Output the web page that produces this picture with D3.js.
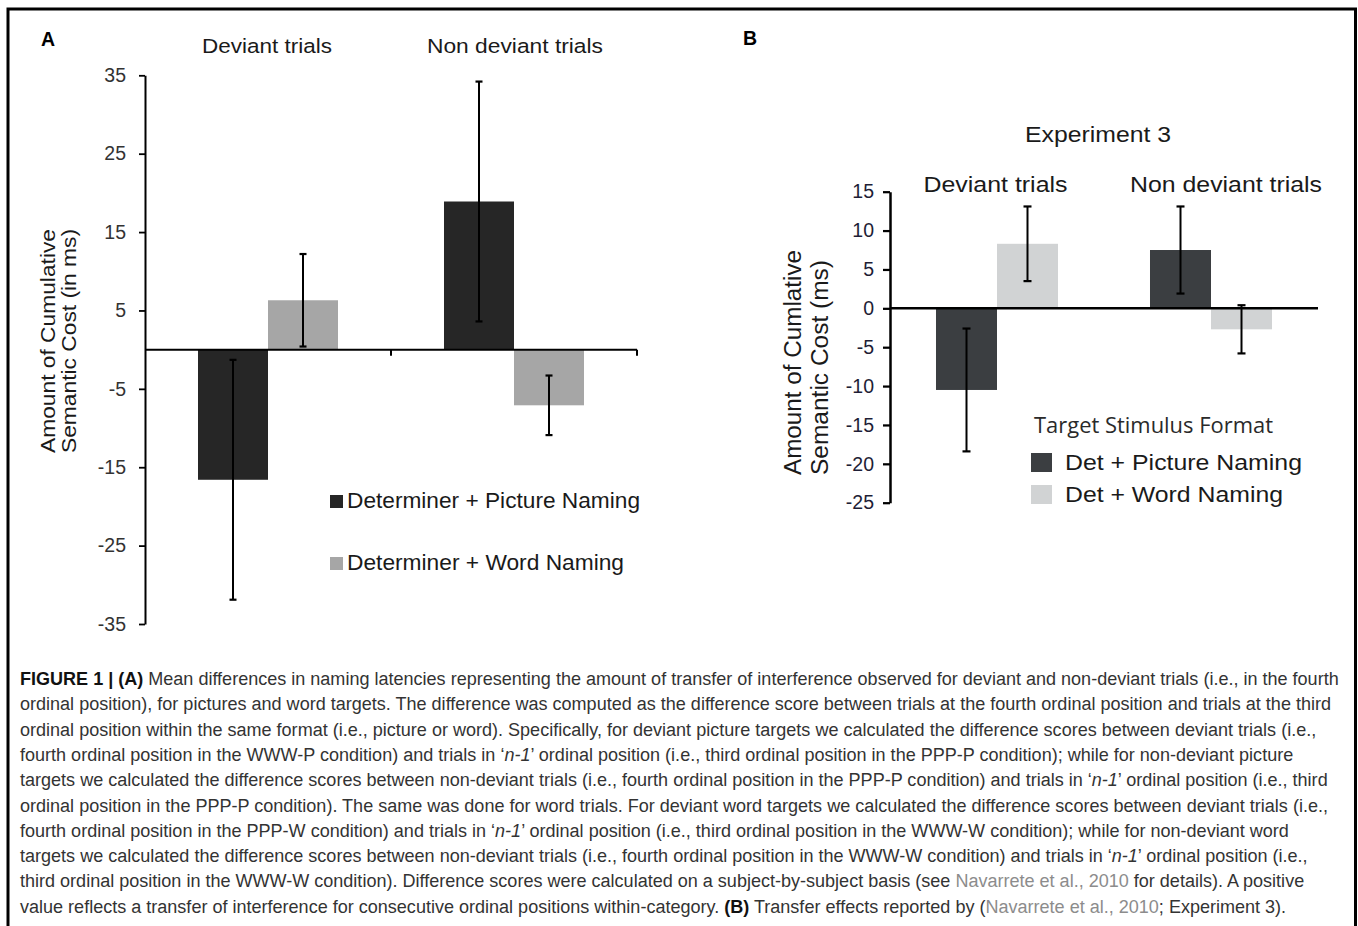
<!DOCTYPE html>
<html>
<head>
<meta charset="utf-8">
<script src="https://cdn.jsdelivr.net/npm/d3@7"></script>
<style>
  body { margin: 0; background: #fff; }
  svg { display: block; font-family: "Liberation Sans", Arial, sans-serif; }
</style>
</head>
<body>
<svg id="fig" width="1358" height="926"></svg>
<script>
var groupsA = ["Deviant trials", "Non deviant trials"];
var seriesA = ["Determiner + Picture Naming", "Determiner + Word Naming"];
var pictureA = [-16.6, 18.9];
var pictureErrA = [15.3, 15.3];
var wordA = [6.3, -7.1];
var wordErrA = [5.9, 3.8];
var ticksA = [35, 25, 15, 5, -5, -15, -25, -35];

// panel B values
var groupsB = ["Deviant trials", "Non deviant trials"];
var seriesB = ["Det + Picture Naming", "Det + Word Naming"];
var pictureB = [-10.5, 7.5];
var pictureErrB = [7.9, 5.6];
var wordB = [8.3, -2.7];
var wordErrB = [4.8, 3.1];
var ticksB = [15, 10, 5, 0, -5, -10, -15, -20, -25];

// caption, one entry per printed line. objects mark bold / italic / link runs
var captionLines = [
    [{b: "FIGURE 1 | (A)"}, " Mean differences in naming latencies representing the amount of transfer of interference observed for deviant and non-deviant trials (i.e., in the fourth"],
    ["ordinal position), for pictures and word targets. The difference was computed as the difference score between trials at the fourth ordinal position and trials at the third"],
    ["ordinal position within the same format (i.e., picture or word). Specifically, for deviant picture targets we calculated the difference scores between deviant trials (i.e.,"],
    ["fourth ordinal position in the WWW-P condition) and trials in \u2018", {i: "n-1"}, "\u2019 ordinal position (i.e., third ordinal position in the PPP-P condition); while for non-deviant picture"],
    ["targets we calculated the difference scores between non-deviant trials (i.e., fourth ordinal position in the PPP-P condition) and trials in \u2018", {i: "n-1"}, "\u2019 ordinal position (i.e., third"],
    ["ordinal position in the PPP-P condition). The same was done for word trials. For deviant word targets we calculated the difference scores between deviant trials (i.e.,"],
    ["fourth ordinal position in the PPP-W condition) and trials in \u2018", {i: "n-1"}, "\u2019 ordinal position (i.e., third ordinal position in the WWW-W condition); while for non-deviant word"],
    ["targets we calculated the difference scores between non-deviant trials (i.e., fourth ordinal position in the WWW-W condition) and trials in \u2018", {i: "n-1"}, "\u2019 ordinal position (i.e.,"],
    ["third ordinal position in the WWW-W condition). Difference scores were calculated on a subject-by-subject basis (see ", {a: "Navarrete et al., 2010"}, " for details). A positive"],
    ["value reflects a transfer of interference for consecutive ordinal positions within-category. ", {b: "(B)"}, " Transfer effects reported by (", {a: "Navarrete et al., 2010"}, "; Experiment 3)."]
];

var svg = d3.select("#fig");

// frame round the figure
svg.append("rect")
    .attr("x", 8).attr("y", 9)
    .attr("width", 1347.5).attr("height", 960)
    .attr("fill", "none")
    .attr("stroke", "#000")
    .attr("stroke-width", 3);

// helper: text squeezed / stretched to the width seen in the picture
function label(g, txt, x, y, size, len, anchor) {
    var t = g.append("text")
        .attr("x", x).attr("y", y)
        .attr("font-size", size)
        .attr("text-anchor", anchor || "start")
        .attr("fill", "#1a1a1a")
        .text(txt);
    if (len) t.attr("textLength", len).attr("lengthAdjust", "spacingAndGlyphs");
    return t;
}

function drawPanel(p) {
    var g = svg.append("g");

    var x0 = d3.scaleBand().domain(p.groups).range(p.xRange);
    var x1 = d3.scaleBand().domain(p.series)
        .range([0, x0.bandwidth()])
        .paddingOuter(p.outer);
    var y = d3.scaleLinear().domain(p.yDomain).range(p.yRange);

    // bars
    p.groups.forEach(function(grp, i) {
        p.series.forEach(function(s, j) {
            var v = p.values[j][i],
                e = p.errors[j][i],
                bx = x0(grp) + x1(s),
                cx = bx + x1.bandwidth() / 2;

            g.append("rect")
                .attr("x", bx)
                .attr("y", y(Math.max(0, v)))
                .attr("width", x1.bandwidth())
                .attr("height", Math.abs(y(v) - y(0)))
                .attr("fill", p.colors[j]);

            // error bar + caps
            g.append("line")
                .attr("x1", cx).attr("x2", cx)
                .attr("y1", y(v - e)).attr("y2", y(v + e))
                .attr("stroke", "#000").attr("stroke-width", 2);
            [v - e, v + e].forEach(function(c) {
                g.append("line")
                    .attr("x1", cx - p.cap).attr("x2", cx + p.cap)
                    .attr("y1", y(c)).attr("y2", y(c))
                    .attr("stroke", "#000").attr("stroke-width", 2.2);
            });
        });
    });

    // y axis
    var ax = g.append("g")
        .attr("transform", "translate(" + p.xRange[0] + ",0)")
        .call(d3.axisLeft(y)
            .tickValues(p.ticks)
            .tickSize(p.tickLen)
            .tickPadding(p.tickPad)
            .tickSizeOuter(0)
            .tickFormat(function(d) { return String(d); }));
    ax.select(".domain").attr("stroke-width", p.axisWidth);
    ax.selectAll(".tick line").attr("stroke-width", p.axisWidth * 0.9);
    ax.selectAll(".tick text")
        .attr("font-size", p.tickFont)
        .attr("font-family", "Liberation Sans, Arial, sans-serif")
        .attr("fill", p.tickColor);

    // zero line
    g.append("line")
        .attr("x1", p.xRange[0]).attr("x2", p.xRange[1])
        .attr("y1", y(0)).attr("y2", y(0))
        .attr("stroke", "#000").attr("stroke-width", p.axisWidth);

    if (p.bandTicks) {
        p.groups.forEach(function(grp) {
            var tx = x0(grp) + x0.bandwidth();
            g.append("line")
                .attr("x1", tx).attr("x2", tx)
                .attr("y1", y(0)).attr("y2", y(0) + 6)
                .attr("stroke", "#000").attr("stroke-width", p.axisWidth);
        });
    }

    return {g: g, x0: x0, y: y};
}

// ---- panel A
var A = drawPanel({
    groups: groupsA, series: seriesA,
    values: [pictureA, wordA], errors: [pictureErrA, wordErrA],
    colors: ["#262626", "#a6a6a6"],
    xRange: [145, 637], yDomain: [-35, 35], yRange: [624, 75.3],
    outer: 0.757, cap: 3.5,
    ticks: ticksA, tickLen: 6, tickPad: 13, tickFont: 19.5, tickColor: "#333",
    axisWidth: 2, bandTicks: true
});

label(A.g, "A", 41, 46, 19.5, null).attr("font-weight", "bold").attr("fill", "#000");
label(A.g, groupsA[0], 267, 53, 20.5, 130, "middle");
label(A.g, groupsA[1], 515, 53, 20.5, 176, "middle");

[ "Amount of Cumulative", "Semantic Cost (in ms)" ].forEach(function(t, i) {
    label(A.g, t, 0, 0, 21, 224)
        .attr("transform", "translate(" + (55 + i * 21) + ",453) rotate(-90)");
});

seriesA.forEach(function(s, i) {
    var ly = 508 + i * 62;
    A.g.append("rect")
        .attr("x", 330).attr("y", ly - 13)
        .attr("width", 13).attr("height", 13)
        .attr("fill", i === 0 ? "#262626" : "#a6a6a6");
    label(A.g, s, 347, ly, 21.5, i === 0 ? 293 : 277);
});

// ---- panel B
var B = drawPanel({
    groups: groupsB, series: seriesB,
    values: [pictureB, wordB], errors: [pictureErrB, wordErrB],
    colors: ["#3b3e41", "#d1d3d4"],
    xRange: [890, 1318], yDomain: [-25, 15], yRange: [502.7, 191.7],
    outer: 0.754, cap: 4,
    ticks: ticksB, tickLen: 7, tickPad: 9, tickFont: 19.5, tickColor: "#1e1e36",
    axisWidth: 2.5, bandTicks: false
});

label(B.g, "B", 743, 45, 19.5, null).attr("font-weight", "bold").attr("fill", "#000");
label(B.g, "Experiment 3", 1098, 141.7, 21.5, 146, "middle");
label(B.g, groupsB[0], 923.5, 191.7, 21.5, 144);
label(B.g, groupsB[1], 1130, 191.7, 21.5, 192);

[ "Amount of Cumlative", "Semantic Cost (ms)" ].forEach(function(t, i) {
    label(B.g, t, 0, 0, 23, i === 0 ? 225 : 215)
        .attr("transform", "translate(" + (801 + i * 27) + ",475) rotate(-90)");
});

label(B.g, "Target Stimulus Format", 1034, 433, 21, 239)
    .attr("font-family", "'Open Sans', 'Noto Sans', sans-serif")
    .attr("fill", "#2a2a2a");

seriesB.forEach(function(s, i) {
    var ly = 470 + i * 32;
    B.g.append("rect")
        .attr("x", 1031).attr("y", ly - 17)
        .attr("width", 21).attr("height", 19)
        .attr("fill", i === 0 ? "#3b3e41" : "#d1d3d4");
    label(B.g, s, 1065, ly, 22, i === 0 ? 237 : 218);
});

// ---- caption
var cap = svg.append("g").attr("fill", "#333");
var capLines = captionLines.map(function(line, i) {
    var t = cap.append("text")
        .attr("x", 20)
        .attr("y", 685 + i * 25.3)
        .attr("font-size", 16);
    line.forEach(function(seg) {
        var ts = t.append("tspan");
        if (typeof seg === "string") {
            ts.text(seg);
        } else if (seg.b) {
            ts.text(seg.b).attr("font-weight", "bold").attr("fill", "#111");
        } else if (seg.i) {
            ts.text(seg.i).attr("font-style", "italic");
        } else if (seg.a) {
            ts.text(seg.a).attr("fill", "#8c8c8c");
        }
    });
    return t;
});

// fit the font so the first line runs from 20 to 1340 like the print
var w0 = capLines[0].node().getComputedTextLength();
var fs = 16 * 1320 / w0;
capLines.forEach(function(t) { t.attr("font-size", fs); });
</script>
</body>
</html>
